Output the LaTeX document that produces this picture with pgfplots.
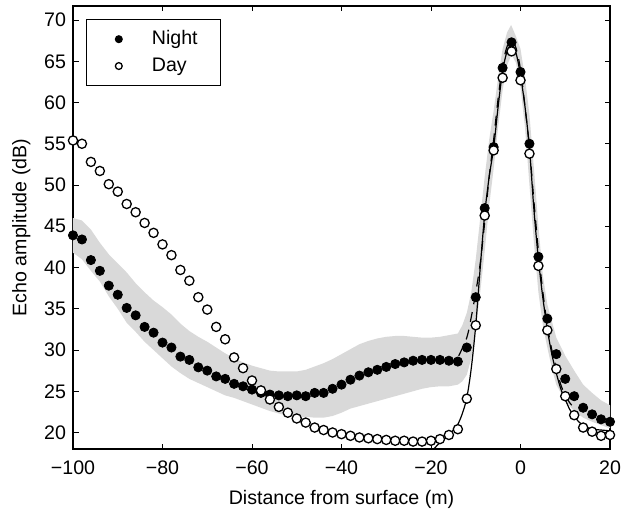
\documentclass[border=0pt]{standalone}
\usepackage{pgfplots}
\pgfplotsset{compat=1.18}
\usepackage{fontspec}
\setmainfont{Liberation Sans}
\pgfplotsset{mylegend/.style={legend image code/.code={\path (0,0) (0.95cm,0); \draw[##1, mark size=1.7pt] plot coordinates {(0.45cm,0cm)};}}}
\begin{document}
\begin{tikzpicture}
\begin{axis}[
  scale only axis,
  width=268.5pt, height=221.5pt,
  xmin=-100, xmax=20, ymin=18, ymax=71.7,
  xtick={-100,-80,-60,-40,-20,0,20},
  xticklabels={−100,−80,−60,−40,−20,0,20},
  ytick={20,25,30,35,40,45,50,55,60,65,70},
  yticklabels={20,25,30,35,40,45,50,55,60,65,70},
  tick align=inside,
  major tick length=2.75pt,
  axis line style={line width=0.6pt},
  every tick/.style={line width=0.5pt, black},
  ticklabel style={font=\fontsize{9.8}{11.5}\selectfont},
  xticklabel style={yshift=-2.5pt},
  label style={font=\fontsize{9.8}{11.5}\selectfont},
  ylabel style={yshift=0pt},
  xlabel style={yshift=-1pt},
  xlabel={Distance from surface (m)},
  ylabel={Echo amplitude (dB)},
  clip=true,
  legend style={at={(rel axis cs:0,1)}, xshift=6.5pt, yshift=-6.5pt, anchor=north west,
    draw=black, line width=0.6pt, font=\fontsize{9.8}{11.5}\selectfont,
    inner xsep=3pt, inner ysep=3.5pt, row sep=1pt, cells={anchor=west}},
]
% shaded band
\addplot[fill=gray!30, draw=none, forget plot] coordinates {
(-100,46.0) (-98,45.7) (-96,44.6) (-94,43.0) (-92,41.6) (-90,40.5) (-88,39.4) (-86,38.1) (-84,37.0) (-82,36.0) (-80,35.2) (-78,34.3) (-76,33.2) (-74,32.3) (-72,31.6) (-70,31.0) (-68,30.3) (-66,29.6) (-64,29.0) (-62,28.5) (-60,28.1) (-58,27.8) (-56,27.5) (-54,27.4) (-52,27.4) (-50,27.4) (-48,27.6) (-46,28.0) (-44,28.4) (-42,28.9) (-40,29.5) (-38,30.1) (-36,30.7) (-34,31.1) (-32,31.4) (-30,31.6) (-28,31.7) (-26,31.7) (-24,31.6) (-22,31.5) (-20,31.5) (-18,31.6) (-16,31.8) (-14,32.0) (-13,33.0) (-12,34.5) (-11,37) (-10,41) (-9,46) (-8,51) (-7,55.5) (-6,59) (-5,63) (-4,66.5) (-3,68.5) (-2.1,69.4) (-1,68) (0,66.5) (1,63) (2,58.5) (3,52) (4,45) (5,39) (6,35.5) (8,31.5) (10,29.3) (12,27.5) (14,25.8) (16,24.8) (18,23.9) (20,23.3)
(20,20.5) (18,20.9) (16,21.3) (14,21.8) (12,22.6) (10,23.8) (8,25.8) (7,27.8) (6,30.3) (5,33) (4,37) (3,43) (2,50) (1,57) (0,61.8) (-1,64.8) (-2,65.8) (-3,64.5) (-4,61.5) (-5,57) (-6,52) (-7,47.5) (-8,42) (-9,37) (-10,32.5) (-11,29) (-12,27) (-13,26.2) (-14,25.8) (-16,25.6) (-18,25.6) (-20,25.5) (-22,25.3) (-24,25.0) (-26,24.7) (-28,24.4) (-30,24.1) (-32,23.8) (-34,23.5) (-36,23.2) (-38,22.9) (-40,22.4) (-42,22.0) (-44,21.8) (-46,21.8) (-48,21.9) (-50,21.9) (-52,22.0) (-54,22.3) (-56,22.6) (-58,23.0) (-60,23.4) (-62,23.8) (-64,24.2) (-66,24.5) (-68,25.0) (-70,25.5) (-72,26.0) (-74,26.5) (-76,27.2) (-78,28.0) (-80,29.0) (-82,30.0) (-84,31.0) (-86,32.2) (-88,33.3) (-90,35.0) (-92,36.5) (-94,38.3) (-96,39.6) (-98,41.0) (-100,41.8)
} -- cycle;
% Night
\addplot[only marks, mark=*, mark size=2.3pt, mark options={fill=black, draw=black}, mylegend] coordinates {
(-100,43.9) (-98,43.4) (-96,40.9) (-94,39.6) (-92,37.8) (-90,36.7) (-88,35.1) (-86,34.2) (-84,32.8) (-82,32.1) (-80,30.9) (-78,30.3) (-76,29.2) (-74,28.8) (-72,27.9) (-70,27.5) (-68,26.8) (-66,26.5) (-64,25.9) (-62,25.6) (-60,25.2) (-58,24.8) (-56,24.6) (-54,24.5) (-52,24.4) (-50,24.5) (-48,24.4) (-46,24.8) (-44,24.8) (-42,25.3) (-40,25.8) (-38,26.4) (-36,26.9) (-34,27.3) (-32,27.6) (-30,27.95) (-28,28.3) (-26,28.5) (-24,28.7) (-22,28.8) (-20,28.8) (-18,28.8) (-16,28.7) (-14,28.6) (-12,30.3) (-10,36.4) (-8,47.2) (-6,54.6) (-4,64.2) (-2,67.3) (0,63.7) (2,55.0) (4,41.3) (6,33.8) (8,29.5) (10,26.5) (12,24.4) (14,23.0) (16,22.2) (18,21.6) (20,21.3)
};
\addlegendentry{Night\kern6.5pt}
% Day
\addplot[only marks, mark=*, mark size=2.3pt, mark options={fill=white, draw=black, line width=0.65pt}, mylegend] coordinates {
(-100,55.4) (-98,55.0) (-96,52.8) (-94,51.7) (-92,50.1) (-90,49.2) (-88,47.7) (-86,46.7) (-84,45.4) (-82,44.2) (-80,42.8) (-78,41.5) (-76,39.7) (-74,38.4) (-72,36.4) (-70,34.9) (-68,32.8) (-66,31.3) (-64,29.1) (-62,27.8) (-60,26.3) (-58,25.1) (-56,24.0) (-54,23.1) (-52,22.4) (-50,21.7) (-48,21.2) (-46,20.6) (-44,20.3) (-42,20.0) (-40,19.8) (-38,19.6) (-36,19.4) (-34,19.3) (-32,19.2) (-30,19.1) (-28,19.0) (-26,19.0) (-24,18.9) (-22,18.9) (-20,19.0) (-18,19.2) (-16,19.7) (-14,20.4) (-12,24.1) (-10,33.0) (-8,46.3) (-6,54.2) (-4,63.0) (-2,66.2) (0,62.7) (2,53.8) (4,40.2) (6,32.4) (8,27.7) (10,24.4) (12,22.1) (14,20.6) (16,20.1) (18,19.6) (20,19.7)
};
\addlegendentry{Day}
% solid model curve
\addplot[black, line width=0.6pt, smooth, forget plot] coordinates {
(-20,17.6) (-18,18.8) (-16,19.7) (-15,20.3) (-14,21.0) (-13,22.3) (-12,24.2) (-11,27.8) (-10,33.0) (-9,40.0) (-8,46.5) (-7,51.0) (-6,54.5) (-5,59.5) (-4,63.8) (-3,66.2) (-2,67.0) (-1,66.0) (0,63.3) (1,59.5) (2,54.5) (3,47.0) (4,41.0) (5,36.3) (6,32.5) (7,29.5) (8,27.2) (9,25.3) (10,24.0) (11,22.8) (12,22.0) (13,21.3) (14,20.9) (15,20.6) (16,20.4) (18,20.3) (20,20.2)
};
% dashed model curve
\addplot[black, line width=0.6pt, smooth, dash pattern=on 5pt off 4pt, forget plot] coordinates {
(-13.8,29.3) (-12,31.5) (-11,34.0) (-10,37.0) (-9,40.5) (-8,45.5) (-7,51) (-6,55.5) (-5,60.5) (-4,64.5) (-3,66.8) (-2,67.5) (-1,66.6) (0,64) (1,59.5) (2,54.5) (3,48) (4,42) (5,37) (6,33) (7,30) (8,27.8) (9,25.8) (10,24.5) (11,23.6) (12,23.0)
};
\end{axis}
\pgfresetboundingbox
\path (current axis.south west) ++(-36.5pt,-29.5pt) rectangle ++(315pt,254pt);
\end{tikzpicture}
\end{document}
